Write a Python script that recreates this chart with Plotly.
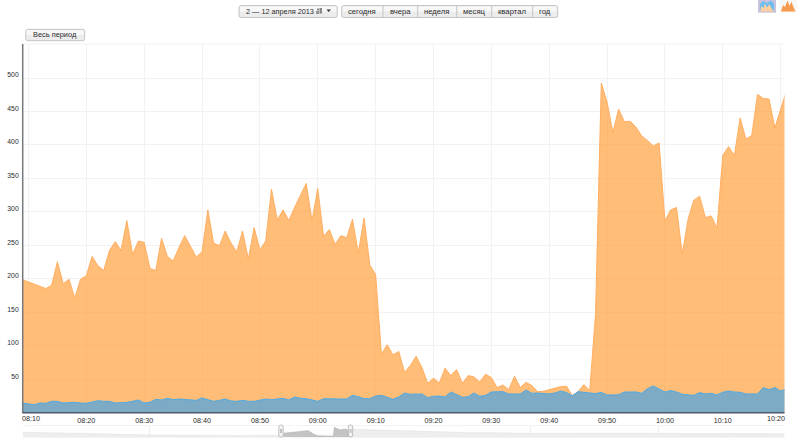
import pandas as pd
import plotly.graph_objects as go

W, H = 800, 444

# Main chart data (one sample per minute, 08:09 - 10:21)
start_time = "2013-04-12 08:09"
hits = [198.5,195.5,192,188.5,185.5,190.5,225.5,192.5,199.5,171.5,199.5,204.5,233.5,219.5,212.5,242.5,255.5,242.5,287,236.5,
        256.5,254.5,215.5,212.5,260.5,233.5,226.5,246.5,264.5,248.5,232.5,240.5,303,253.5,249.5,271.5,253.5,240.5,271.5,229.5,
        276.5,243.5,256.5,334,288,303,287,307,324,342.5,287,335,263.5,273.5,251.5,264.5,261.5,289,238.5,291,
        220.5,206.5,87.5,101.5,86.5,91.5,60.5,70.5,84.5,67.5,44,51.5,44.5,66.5,55.5,64.5,44,55.5,53.5,46,
        57.5,52.5,37.5,41.5,34.5,54.5,37.5,45.5,40.5,31.5,32,34,37,39,39.5,25.5,31.5,42,33,147,
        492.5,464,419,453.5,434.5,435.5,426.5,413.5,406.5,398.5,403,286.5,303,306.5,237.5,289,317.5,323.5,291.5,294,
        276,384.5,397.5,384,440.5,409,414,475.5,469.5,468.5,425.5,451.5,481]
visitors = [14.5,13.5,12,14.5,14,17,17,14.5,15,15.5,14.5,14,16,18,17,17,14.5,14.5,15.5,17,
            19,14.5,15.5,20,19,21.5,19.5,20.5,20,19,18.5,22,19,17,18.5,20.5,17.5,17,18.5,17,
            17,18.5,20.5,19.5,21,21.5,19,23.5,21.5,21,19,17,21,20.5,20.5,20.5,20.5,26,24,21,
            21,25,26,23.5,20,23.5,29.5,27.5,27.5,28,22.5,24.5,25,23.5,31,27.5,23,24,29.5,24.5,
            26,31,31.5,31.5,28,27.5,28,34,29,29.5,28.5,28,29.5,32.5,30,25.5,31.5,30.5,30,28.5,
            30.5,26.5,26.5,27,31,30.5,31,29,36,40,36,31,33,31,27.5,26.5,26,30,28,29,
            26.5,30.5,32.5,31,30.5,28,27.5,28,37.5,34.5,37.5,32.5,35.5]
times = pd.date_range(start_time, periods=len(hits), freq="min")
y_ticks = [50,100,150,200,250,300,350,400,450,500]
x_ticks = ["08:20","08:30","08:40","08:50","09:00","09:10","09:20","09:30","09:40","09:50","10:00","10:10"]

# Overview strip
nav_all = [5,4.8,4.5,4,3.6,3.2,2.6,2.4,2.2,2,1.8,1.7,1.6,1.7,2,2,2,2,2,8,7.5,7,6.5,5.5,5,4.8,4.5,4.5,4,4,3.8,4,4,3.8,4,4,3.8,3.6,3.8,3.8,3.6,3.8,3.4,3.6,3.4]
nav_sel_x = [15.06,15.83,16.5,16.79,17.02,17.95,18.0,18.33,18.62,18.91]
nav_sel_y = [4,5.3,6.6,3.3,1.3,0.6,10,7.3,8.3,6.3]
nav_grid = [7.3,29.34,36.7]

# Toolbar text
date_label = "2 — 12 апреля 2013"
range_buttons = ["сегодня","вчера","неделя","месяц","квартал","год"]
all_label = "Весь период"

def X(p): return p / W
def Y(p): return 1 - p / H

PL, PR, PT, PB = 22.7, 784.5, 44, 412.7
FONT = "Liberation Sans"
TXT = "#2b2b2b"

fig = go.Figure()
fig.add_trace(go.Scatter(x=times, y=hits, mode="lines", fill="tozeroy",
                         line=dict(color="rgba(255,170,90,0.9)", width=1),
                         fillcolor="rgba(255,154,46,0.65)", hoverinfo="skip"))
fig.add_trace(go.Scatter(x=times, y=visitors, mode="lines", fill="tozeroy",
                         line=dict(color="rgba(70,170,235,0.9)", width=1),
                         fillcolor="rgba(45,160,245,0.62)", hoverinfo="skip"))
fig.add_trace(go.Scatter(x=list(range(len(nav_all))), y=nav_all, mode="lines", fill="tozeroy",
                         line=dict(color="#e4e4e4", width=0.7), fillcolor="#eeeeee",
                         xaxis="x2", yaxis="y2", hoverinfo="skip"))
fig.add_trace(go.Scatter(x=nav_sel_x, y=nav_sel_y, mode="lines", fill="tozeroy",
                         line=dict(color="#b5b5b5", width=0.7), fillcolor="#c4c4c4",
                         xaxis="x2", yaxis="y2", hoverinfo="skip"))

shapes, ann = [], []

def round_rect(x0, y0, x1, y1, r, fill, line, w=0.8):
    a, b, c, d = X(x0), X(x1), Y(y0), Y(y1)
    rx, ry = r / W, r / H
    path = (f"M{a+rx},{c} L{b-rx},{c} Q{b},{c} {b},{c-ry} L{b},{d+ry} Q{b},{d} {b-rx},{d} "
            f"L{a+rx},{d} Q{a},{d} {a},{d+ry} L{a},{c-ry} Q{a},{c} {a+rx},{c} Z")
    shapes.append(dict(type="path", path=path, xref="paper", yref="paper", fillcolor=fill,
                       line=dict(color=line, width=w), layer="above"))

def rect(x0, y0, x1, y1, fill):
    shapes.append(dict(type="rect", xref="paper", yref="paper", x0=X(x0), x1=X(x1), y0=Y(y1), y1=Y(y0),
                       fillcolor=fill, line=dict(width=0), layer="above"))

def vline(x, y0, y1, color, w=1):
    shapes.append(dict(type="line", xref="paper", yref="paper", x0=X(x), x1=X(x), y0=Y(y0), y1=Y(y1),
                       line=dict(color=color, width=w), layer="above"))

def hline(x0, x1, y, color, w=1):
    shapes.append(dict(type="line", xref="paper", yref="paper", x0=X(x0), x1=X(x1), y0=Y(y), y1=Y(y),
                       line=dict(color=color, width=w), layer="above"))

def label(x, y, text, size=9, color=TXT, anchor="center"):
    ann.append(dict(x=X(x), y=Y(y), xref="paper", yref="paper", text=text, showarrow=False,
                    font=dict(family=FONT, size=size, color=color), xanchor=anchor, yanchor="middle"))

def button(x0, y0, x1, y1):
    round_rect(x0, y0, x1, y1, 2, "#ececec", "#b9b9b9")
    rect(x0 + 1, y0 + 1, x1 - 1, (y0 + y1) / 2, "#f7f7f7")

# Toolbar
button(239, 5.5, 337.3, 17.5)
label(279.5, 11.3, date_label, 7.3)
rect(317, 8.5, 319, 10.5, "#888888"); rect(319.5, 8, 322, 13.5, "#888888"); rect(316, 11, 319, 14, "#999999")
shapes.append(dict(type="path", xref="paper", yref="paper", layer="above", fillcolor="#333333", line=dict(width=0),
                   path=f"M{X(326.5)},{Y(9.5)} L{X(331)},{Y(9.5)} L{X(328.7)},{Y(12)} Z"))
button(341.7, 5.5, 557.7, 17.5)
seps = [341.7, 383, 417.7, 456.7, 491.7, 532.7, 557.7]
for s in seps[1:-1]:
    vline(s, 6, 17, "#c4c4c4")
for i, t in enumerate(range_buttons):
    label((seps[i] + seps[i + 1]) / 2, 11.5, t, 7.7)
button(25.7, 29.3, 84.7, 40.7)
label(55, 35, all_label, 7.4)

# Chart-type icons
rect(758, 0, 776, 12.7, "#c9c3dd")
shapes.append(dict(type="path", xref="paper", yref="paper", layer="above", fillcolor="#6fbcf0", line=dict(width=0),
                   path=f"M{X(760)},{Y(11)} L{X(760)},{Y(4)} L{X(763)},{Y(1)} L{X(767)},{Y(3)} L{X(771)},{Y(0.5)} L{X(774)},{Y(4)} L{X(774)},{Y(11)} Z"))
shapes.append(dict(type="path", xref="paper", yref="paper", layer="above", fillcolor="#fbcf9f", line=dict(width=0),
                   path=f"M{X(760)},{Y(11.5)} L{X(761.5)},{Y(6)} L{X(763.5)},{Y(8)} L{X(765)},{Y(3.5)} L{X(767)},{Y(7.5)} L{X(769.5)},{Y(4)} L{X(771)},{Y(7.5)} L{X(774)},{Y(11.5)} Z"))
rect(779.5, 0, 797, 12.5, "#f7f7f7")
shapes.append(dict(type="path", xref="paper", yref="paper", layer="above", fillcolor="#f59a4e", line=dict(width=0),
                   path=f"M{X(781)},{Y(11.5)} L{X(783)},{Y(5)} L{X(785)},{Y(7)} L{X(787.5)},{Y(0.5)} L{X(789.5)},{Y(6)} L{X(791.5)},{Y(1.5)} L{X(793)},{Y(6)} L{X(795.5)},{Y(11.5)} Z"))

# Frame lines
hline(PL, PR, PT, "#f2f2f2")
vline(PL, PT, PB + 0.5, "#77797c", 1.5)
hline(PL, PR, PB, "#4d5b68", 1.5)

# Navigator handles
for hx in (281, 350.5):
    round_rect(hx - 2.2, 425, hx + 2.2, 437, 2, "#f4f4f4", "#a8a8a8", 0.7)
    vline(hx - 0.4, 429, 433, "#9a9a9a", 0.6)
    vline(hx + 0.6, 429, 433, "#9a9a9a", 0.6)

# End tick labels sit inside the plot width
label(31.3, 418.5, "08:10", 7.2)
label(775.5, 418.5, "10:20", 7.2)

day = start_time[:10]
fig.update_layout(
    width=W, height=H, margin=dict(l=0, r=0, t=0, b=0), paper_bgcolor="white", plot_bgcolor="white",
    showlegend=False, shapes=shapes, annotations=ann,
    font=dict(family=FONT, size=9, color=TXT),
    xaxis=dict(domain=[X(PL), X(PR)], range=[f"{day} 08:09", f"{day} 10:20:40"], type="date",
               tickmode="array", tickvals=[f"{day} 08:10"] + [f"{day} {t}" for t in x_ticks] + [f"{day} 10:20"],
               ticktext=[""] + x_ticks + [""], showgrid=True, gridcolor="#f2f2f2", gridwidth=1,
               ticks="", zeroline=False, showline=False, tickfont=dict(size=7.2, color=TXT), ticklabelstandoff=2),
    yaxis=dict(domain=[Y(PB), Y(PT)], range=[0, (PB - PT) / 0.6694], tickmode="array", tickvals=y_ticks,
               showgrid=True, gridcolor="#f2f2f2", gridwidth=1, ticks="", zeroline=False, showline=False,
               tickfont=dict(size=6.8, color=TXT), ticklabelshift=-3, ticklabelstandoff=3),
    xaxis2=dict(domain=[X(PL), X(PR)], range=[0, len(nav_all) - 1], anchor="y2", tickmode="array", tickvals=nav_grid,
                showticklabels=False, showgrid=True, gridcolor="#f0f0f0", ticks="", zeroline=False,
                showline=True, mirror=True, linecolor="#f3f3f3", linewidth=1),
    yaxis2=dict(domain=[Y(437.3), Y(426)], range=[0, 11.3], anchor="x2", showticklabels=False, showgrid=False,
                ticks="", zeroline=False, showline=False),
)
assert len(hits) == len(visitors)
fig.write_html("out.html", config={"displayModeBar": False},
               post_script="document.body.style.margin='0';document.documentElement.style.overflow='hidden';")
